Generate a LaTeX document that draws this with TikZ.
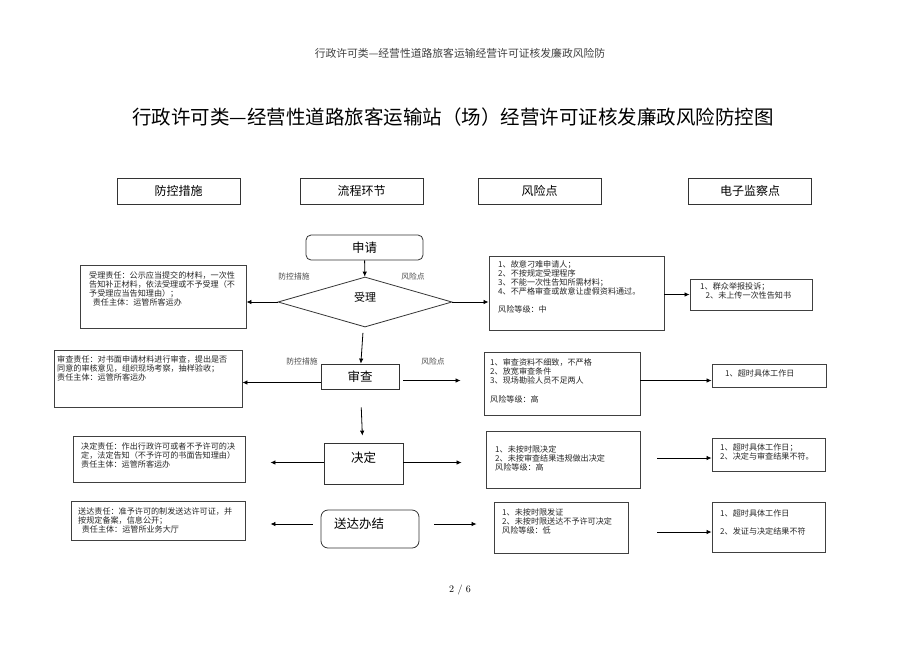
\documentclass[tikz,border=0pt]{standalone}
\usepackage{fontspec}
\newfontfamily\cjk{Noto Sans CJK SC}
\usetikzlibrary{shapes.geometric,arrows.meta}

\tikzset{
  headbox/.style={draw=black!80, line width=0.7pt, minimum width=123pt, minimum height=26pt,
    inner sep=0pt, font=\cjk\fontsize{12}{12}\selectfont},
  stagebox/.style={draw=black!80, line width=0.8pt, inner sep=0pt, font=\cjk\fontsize{12.5}{12.5}\selectfont},
  notebox/.style={draw=black!75, line width=0.9pt, inner sep=0pt},
  notetext/.style={anchor=north west, inner sep=0pt, align=left, text=black!85,
    font=\cjk\fontsize{8.1}{9}\selectfont},
  sidetag/.style={text=black!70, inner sep=0pt, font=\cjk\fontsize{7.8}{8}\selectfont},
  flow/.style={line width=0.8pt, -{Latex[length=5pt,width=4.5pt]}}
}

\begin{document}
\begin{tikzpicture}[x=1pt, y=-1pt]
  \useasboundingbox (0,0) rectangle (920,651);

  % page header and title
  \node[text=black!75, font=\cjk\fontsize{10.8}{11}\selectfont] (pagehead) at (460,53)
    {行政许可类—经营性道路旅客运输经营许可证核发廉政风险防};
  \node[font=\cjk\fontsize{19.5}{20}\selectfont] (title) at (453,117)
    {行政许可类—经营性道路旅客运输站（场）经营许可证核发廉政风险防控图};

  % column heads
  \foreach \i/\x/\txt in {1/178.5/防控措施, 2/361.5/流程环节, 3/539.5/风险点, 4/750/电子监察点}{
    \node[headbox] (head\i) at (\x,191) {\txt};
  }

  % flow stages
  \node[stagebox, rounded corners=5pt, minimum width=117pt, minimum height=25pt] (apply) at (364.5,247.5) {申请};
  \node[stagebox, diamond, aspect=3.5, minimum width=174pt, minimum height=50pt] (accept) at (365,302) {};
  \node[font=\cjk\fontsize{11}{11}\selectfont] (accepttxt) at (365,297) {受理};
  \node[stagebox, minimum width=78pt, minimum height=25pt] (review) at (360,376.5) {审查};
  \node[stagebox, minimum width=79pt, minimum height=41pt,
    label={[anchor=north, yshift=-6pt, font=\cjk\fontsize{12.5}{12.5}\selectfont]north:决定}] (decide) at (363.5,463.5) {};
  \node[stagebox, rounded corners=7pt, minimum width=98pt, minimum height=38pt,
    label={[anchor=west, xshift=10pt, yshift=5pt, font=\cjk\fontsize{12.5}{12.5}\selectfont]west:送达办结}] (finish) at (370,529) {};

  \node[sidetag] (tagl1) at (294,277) {防控措施};
  \node[sidetag] (tagr1) at (413,277) {风险点};
  \node[sidetag] (tagl2) at (302,362) {防控措施};
  \node[sidetag] (tagr2) at (433,362) {风险点};

  % control measures
  \node[notebox, minimum width=166pt, minimum height=63pt] (ctl1) at (163,296.5) {};
  \node[notebox, minimum width=188pt, minimum height=57pt] (ctl2) at (148,378.5) {};
  \node[notebox, minimum width=172pt, minimum height=46pt] (ctl3) at (159,459) {};
  \node[notebox, minimum width=174pt, minimum height=39pt] (ctl4) at (158,520.5) {};
  \node[notetext] (ctl1txt) at (89,271.5) {受理责任：公示应当提交的材料，一次性\\告知补正材料，依法受理或不予受理（不\\予受理应当告知理由）；\\\ \ 责任主体：运管所客运办};
  \node[notetext] (ctl2txt) at (57,355.5) {审查责任：对书面申请材料进行审查，提出是否\\同意的审核意见，组织现场考察，抽样验收；\\责任主体：运管所客运办};
  \node[notetext] (ctl3txt) at (81,442.5) {决定责任：作出行政许可或者不予许可的决\\定，法定告知（不予许可的书面告知理由）\\责任主体：运管所客运办};
  \node[notetext] (ctl4txt) at (78,507.5) {送达责任：准予许可的制发送达许可证，并\\按规定备案，信息公开；\\\ \ 责任主体：运管所业务大厅};

  % risk points
  \node[notebox, minimum width=175pt, minimum height=74pt] (risk1) at (576.5,293) {};
  \node[notebox, minimum width=156pt, minimum height=63pt] (risk2) at (562,383.5) {};
  \node[notebox, minimum width=154pt, minimum height=57pt] (risk3) at (563,459.5) {};
  \node[notebox, minimum width=134pt, minimum height=51pt] (risk4) at (561,527.5) {};
  \node[notetext] (risk1txt) at (498,260.5) {1、故意刁难申请人；\\2、不按规定受理程序\\3、不能一次性告知所需材料；\\4、不严格审查或故意让虚假资料通过。\\[9pt]风险等级：中};
  \node[notetext] (risk2txt) at (490,358.5) {1、审查资料不细致，不严格\\2、放宽审查条件\\3、现场勘验人员不足两人\\[10pt]风险等级：高};
  \node[notetext] (risk3txt) at (495,445.5) {1、未按时限决定\\2、未按审查结果违规做出决定\\风险等级：高};
  \node[notetext] (risk4txt) at (502,508.5) {1、未按时限发证\\2、未按时限送达不予许可决定\\风险等级：低};

  % electronic monitoring points
  \node[notebox, minimum width=122pt, minimum height=31pt] (mon1) at (751,294.5) {};
  \node[notebox, minimum width=114pt, minimum height=23pt] (mon2) at (769,375.5) {};
  \node[notebox, minimum width=113pt, minimum height=33pt] (mon3) at (768.5,454.5) {};
  \node[notebox, minimum width=113pt, minimum height=50pt] (mon4) at (768.5,527) {};
  \node[notetext] (mon1txt) at (700,282.5) {1、群众举报投诉；\\\ \ \ 2、未上传一次性告知书};
  \node[notetext] (mon2txt) at (725,369.5) {1、超时具体工作日};
  \node[notetext] (mon3txt) at (720,443.5) {1、超时具体工作日；\\2、决定与审查结果不符。};
  \node[notetext] (mon4txt) at (720,509.5) {1、超时具体工作日\\[9pt]2、发证与决定结果不符};

  % connector start points
  \coordinate (rv-w) at ([yshift=-6pt]review.west);
  \coordinate (rv-e) at ([yshift=-4pt]review.east);
  \coordinate (r2-e) at ([yshift=3pt]risk2.east);
  \coordinate (dc-w) at ([yshift=1pt]decide.west);
  \coordinate (dc-e) at ([yshift=1pt]decide.east);
  \coordinate (r3-e) at ([yshift=1.5pt]risk3.east);
  \coordinate (fn-w) at ([yshift=5pt]finish.west);
  \coordinate (fn-e) at ([yshift=5pt]finish.east);
  \coordinate (r4-e) at ([yshift=-4.5pt]risk4.east);

  % connectors
  \draw[flow] (apply) -- (accept);
  \draw[flow, shorten <=6pt] (accept) -- (review);
  \draw[flow] (accept.west) -- (ctl1.east |- accept.west);
  \draw[flow] (accept.east) -- (risk1.west |- accept.east);
  \draw[flow] (risk1.east |- mon1.west) -- (mon1.west);

  \draw[flow] (rv-w) -- (ctl2.east |- rv-w);
  \draw[flow, shorten <=4pt, shorten >=23pt] (rv-e) -- (risk2.west |- rv-e);
  \draw[flow] (r2-e) -- (mon2.west |- r2-e);
  \draw[flow, shorten <=18pt, shorten >=7pt] (review) -- (decide);

  \draw[flow, shorten >=25pt] (dc-w) -- (ctl3.east |- dc-w);
  \draw[flow, shorten >=24pt] (dc-e) -- (risk3.west |- dc-e);
  \draw[flow, shorten <=17pt] (r3-e) -- (mon3.west |- r3-e);

  \draw[flow, shorten <=8pt, shorten >=25pt] (fn-w) -- (ctl4.east |- fn-w);
  \draw[flow, shorten <=15pt, shorten >=17pt] (fn-e) -- (risk4.west |- fn-e);
  \draw[flow, shorten <=29pt] (r4-e) -- (mon4.west |- r4-e);

  % page number
  \node[font=\fontsize{10}{10}\selectfont] (pageno) at (460,590) {2 / 6};
\end{tikzpicture}
\end{document}
